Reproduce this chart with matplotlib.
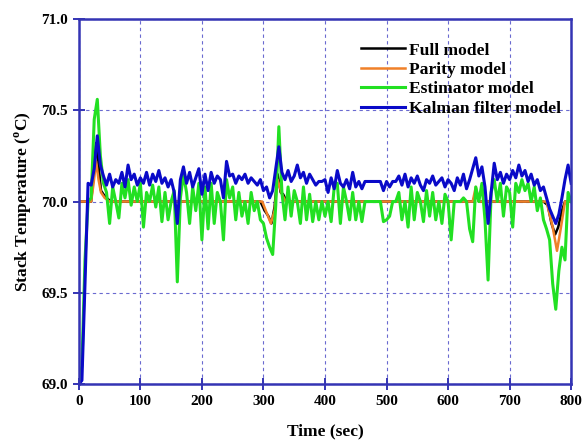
import numpy as np
import matplotlib
matplotlib.use('Agg')
import matplotlib.pyplot as plt

plt.rcParams['font.family'] = 'Liberation Serif'
plt.rcParams['font.weight'] = 'bold'
plt.rcParams['mathtext.fontset'] = 'custom'
plt.rcParams['mathtext.rm'] = 'Liberation Serif:bold'

# sampled every 5 s, 0..800 s
t_sample = np.arange(0, 805, 5)

kalman = [
    69.00, 69.02, 69.55, 70.10, 70.09, 70.18, 70.36, 70.20, 70.14, 70.09,
    70.15, 70.08, 70.12, 70.10, 70.16, 70.08, 70.20, 70.12, 70.15, 70.09,
    70.13, 70.10, 70.16, 70.09, 70.15, 70.11, 70.17, 70.10, 70.13, 70.08,
    70.12, 70.05, 69.88, 70.12, 70.19, 70.10, 70.16, 70.08, 70.13, 70.18,
    70.04, 70.15, 70.06, 70.16, 70.10, 70.14, 70.12, 70.02, 70.22, 70.14,
    70.15, 70.10, 70.14, 70.12, 70.15, 70.10, 70.13, 70.11, 70.09, 70.12,
    70.06, 70.08, 70.02, 70.06, 70.18, 70.30, 70.16, 70.12, 70.17, 70.11,
    70.14, 70.20, 70.13, 70.16, 70.10, 70.15, 70.12, 70.09, 70.11, 70.11,
    70.12, 70.05, 70.13, 70.07, 70.17, 70.10, 70.08, 70.12, 70.07, 70.16,
    70.08, 70.11, 70.07, 70.11, 70.11, 70.11, 70.11, 70.11, 70.11, 70.06,
    70.11, 70.08, 70.11, 70.11, 70.14, 70.09, 70.15, 70.08, 70.13, 70.10,
    70.14, 70.09, 70.06, 70.12, 70.10, 70.14, 70.09, 70.11, 70.13, 70.08,
    70.12, 70.10, 70.06, 70.13, 70.09, 70.15, 70.07, 70.12, 70.18, 70.24,
    70.14, 70.19, 70.08, 69.88, 70.05, 70.21, 70.12, 70.16, 70.10, 70.15,
    70.12, 70.17, 70.13, 70.20, 70.14, 70.17, 70.11, 70.15, 70.09, 70.12,
    70.06, 70.08, 70.02, 69.96, 69.92, 69.88, 69.93, 70.02, 70.12, 70.20,
    70.10,
]

estimator = [
    69.00, 69.10, 69.68, 70.00, 70.02, 70.45, 70.56, 70.25, 70.10, 70.05,
    69.88, 70.08, 70.00, 69.91, 70.10, 70.02, 70.12, 69.98, 70.08, 70.00,
    70.10, 69.86, 70.05, 70.00, 70.09, 69.97, 70.08, 69.89, 70.05, 69.90,
    70.00, 70.06, 69.56, 70.02, 70.15, 70.05, 69.88, 70.08, 69.95, 70.10,
    69.79, 70.08, 69.85, 70.10, 69.88, 70.05, 70.00, 69.79, 70.12, 70.02,
    70.08, 69.90, 70.05, 69.92, 70.00, 69.88, 70.05, 69.95, 70.00, 69.90,
    69.88, 69.80, 69.75, 69.71, 69.98, 70.41, 70.05, 69.90, 70.08, 69.92,
    70.06, 70.00, 69.88, 70.08, 69.90, 70.04, 69.89, 70.00, 69.90, 70.00,
    69.92, 70.00, 69.89, 70.08, 70.10, 69.88, 70.08, 70.00, 69.90, 70.05,
    69.90, 70.00, 69.89, 70.00, 70.00, 70.00, 70.00, 70.00, 70.00, 69.89,
    69.90, 69.92, 70.00, 70.00, 70.05, 69.90, 70.00, 69.86, 70.08, 69.90,
    70.05, 70.00, 69.89, 70.06, 69.92, 70.05, 69.90, 70.00, 69.88, 70.04,
    70.00, 69.79, 70.00, 70.00, 70.00, 70.02, 70.00, 69.85, 69.78, 70.08,
    70.00, 70.10, 69.90, 69.57, 70.05, 70.12, 70.00, 70.10, 69.92, 70.08,
    70.05, 69.86, 70.10, 70.05, 70.12, 70.06, 70.10, 70.00, 70.08, 69.95,
    70.02, 69.90, 69.85, 69.79, 69.55, 69.41, 69.62, 69.75, 69.68, 70.05,
    70.00,
]

# full and parity models sit on the 70.0 set point except around transients
full_t = [0, 15, 20, 24, 28, 32, 36, 40, 45, 52, 295, 302, 308, 313, 318,
          323, 328, 332, 338, 640, 646, 650, 755, 762, 768, 774, 779, 785,
          790, 800]
full = [70.00, 70.00, 70.00, 70.15, 70.32, 70.20, 70.06, 70.04, 70.02,
        70.00, 70.00, 69.95, 69.92, 69.88, 69.97, 70.15, 70.05, 70.04,
        70.00, 70.00, 70.05, 70.00, 70.00, 69.98, 69.88, 69.82, 69.86,
        69.95, 70.00, 70.00]

parity_t = [0, 20, 24, 28, 32, 36, 42, 50, 298, 305, 312, 318, 323, 330,
            336, 640, 645, 650, 760, 770, 777, 783, 790, 800]
parity = [70.00, 70.00, 70.10, 70.22, 70.12, 70.05, 70.02, 70.00, 70.00,
          69.94, 69.88, 69.95, 70.12, 70.04, 70.00, 70.00, 70.08, 70.00,
          70.00, 69.86, 69.73, 69.85, 70.00, 70.00]

x_ticks = [0, 100, 200, 300, 400, 500, 600, 700, 800]
y_ticks = [69.0, 69.5, 70.0, 70.5, 71.0]

frame_col = '#3434b4'

fig = plt.figure(figsize=(5.84, 4.42), dpi=100)
ax = fig.add_axes([0.135, 0.131, 0.843, 0.826])

ax.plot(full_t, full, color='black', lw=1.8, label='Full model')
ax.plot(parity_t, parity, color='#f08028', lw=1.8, label='Parity model')
ax.plot(t_sample, estimator, color='#22e022', lw=2.2, label='Estimator model')
ax.plot(t_sample, kalman, color='#0a0ac8', lw=2.2, label='Kalman filter model')

ax.set_xlim(0, 800)
ax.set_ylim(69.0, 71.0)
ax.set_xticks(x_ticks)
ax.set_yticks(y_ticks)
ax.set_xticklabels([str(v) for v in x_ticks])
ax.set_yticklabels(['%.1f' % v for v in y_ticks])

ax.grid(True, color='#6a6ad0', lw=0.8, linestyle=(0, (3, 3)))
for sp in ax.spines.values():
    sp.set_color(frame_col)
    sp.set_linewidth(1.8)
ax.tick_params(direction='inout', length=8, width=1.4, color=frame_col,
               labelsize=11, pad=4)

ax.set_xlabel('Time (sec)', fontsize=12.5, fontweight='bold', labelpad=11)
ax.set_ylabel('Stack Temperature ($^{\\rm o}$C)', fontsize=12.5,
              fontweight='bold', labelpad=5)

leg = ax.legend(loc='upper right', bbox_to_anchor=(1.0, 0.965),
                frameon=False, fontsize=12.6, handlelength=2.5,
                handletextpad=0.2, labelspacing=0.18, borderaxespad=0.2)
for txt in leg.get_texts():
    txt.set_fontweight('bold')

fig.savefig('out.png', dpi=100)
